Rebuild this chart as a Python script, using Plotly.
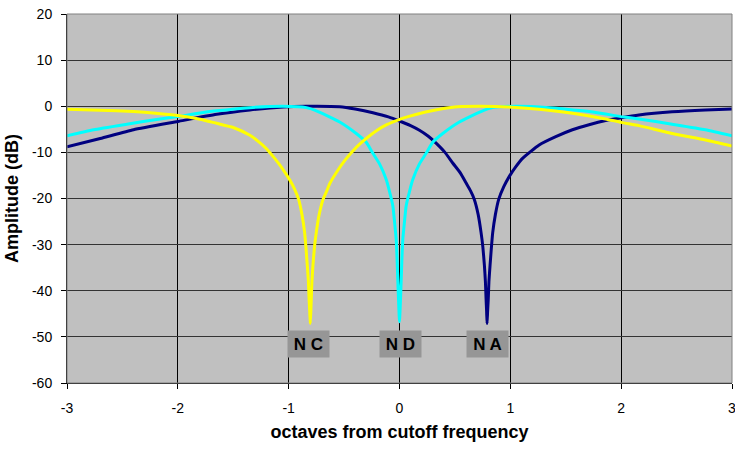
import plotly.graph_objects as go

# ---- data ----
navy_x = [-3, -2.7, -2.4, -2, -1.65, -1.35, -1.05, -0.84, -0.54, -0.4, -0.24, -0.1, 0,
          0.1, 0.18, 0.26, 0.33, 0.41, 0.48, 0.55, 0.6, 0.64, 0.675, 0.71, 0.736, 0.752, 0.766,
          0.775, 0.781, 0.786, 0.790, 0.795, 0.801, 0.807, 0.817, 0.828, 0.841, 0.865, 0.895,
          0.94, 0.991, 1.05, 1.11, 1.26, 1.41, 1.56, 1.71, 1.86, 2, 2.16, 2.46, 2.76, 3]
navy_y = [-8.8, -7.0, -5.1, -3.3, -1.75, -0.8, -0.15, 0, -0.1, -0.6, -1.4, -2.3, -3.2,
          -4.2, -5.2, -6.5, -8.0, -10, -12.3, -14.5, -16.6, -18.3, -20.2, -23.5, -27.4, -30.5, -34.5,
          -38, -41.7, -44.5, -47.1, -44.5, -41.7, -38, -34.5, -31, -27.4, -23.5, -20.2,
          -17.5, -15.2, -13.1, -11.3, -8.4, -6.6, -5.1, -4.0, -3.1, -2.5, -1.9, -1.2, -0.8, -0.6]

cyan_x = [-3, -2.76, -2.46, -2.16, -2, -1.86, -1.65, -1.35, -1.05, -0.84, -0.75, -0.54, -0.39,
          -0.3, -0.24, -0.18, -0.12, -0.09, -0.06, -0.045, -0.03, -0.022, -0.015, -0.008, 0,
          0.008, 0.015, 0.022, 0.03, 0.045, 0.06, 0.09, 0.12, 0.18, 0.24, 0.3, 0.39, 0.54,
          0.75, 0.84, 1.05, 1.35, 1.65, 1.86, 2, 2.16, 2.46, 2.76, 3]
cyan_y = [-6.4, -5.1, -3.9, -2.75, -2.25, -1.7, -1.0, -0.3, 0, -0.3, -1.0, -3.4, -5.9,
          -7.8, -10.2, -12.5, -15.9, -18.5, -21.6, -25, -28.8, -33, -38, -42.5, -46.7,
          -42.5, -38, -33, -28.8, -25, -21.6, -18.5, -15.9, -12.5, -10.2, -7.8, -5.9, -3.4,
          -1.0, -0.3, 0, -0.3, -1.0, -1.7, -2.25, -2.75, -3.9, -5.1, -6.4]

yellow_x = [-3, -2.7, -2.4, -2.2, -2, -1.8, -1.65, -1.5, -1.35, -1.28, -1.2, -1.13, -1.06, -0.99,
            -0.95, -0.91, -0.88, -0.856, -0.843, -0.832, -0.822, -0.816, -0.81, -0.805, -0.80,
            -0.796, -0.79, -0.781, -0.767, -0.751, -0.725, -0.69, -0.655, -0.63, -0.565, -0.495,
            -0.425, -0.345, -0.275, -0.195, -0.115, -0.015, 0.085, 0.225, 0.385, 0.525, 0.735,
            0.985, 1.26, 1.56, 1.86, 2, 2.16, 2.46, 2.76, 3]
yellow_y = [-0.65, -0.85, -1.15, -1.5, -2.0, -2.8, -3.7, -4.6, -6.3, -7.5, -9.2, -11.2, -13.4, -16,
            -17.8, -20.2, -23.5, -27.4, -31, -34.5, -38, -41.7, -44.5, -47.1, -44.5,
            -41.7, -38, -34.5, -30.5, -27.4, -23.5, -20.2, -18.3, -16.8, -14.2, -11.8,
            -9.8, -7.9, -6.5, -5.1, -4.0, -3.0, -2.2, -1.3, -0.55, -0.1, 0,
            -0.15, -0.65, -1.5, -2.75, -3.5, -4.2, -5.9, -7.3, -8.6]

labels = ["N C", "N D", "N A"]
label_x = [-0.82, 0.01, 0.79]
label_y = [-51.6, -51.6, -51.6]

x_ticks = [-3, -2, -1, 0, 1, 2, 3]
y_ticks = [-60, -50, -40, -30, -20, -10, 0, 10, 20]

FONT = "Arial, 'Liberation Sans', sans-serif"

fig = go.Figure()
for xs, ys, col in [(navy_x, navy_y, "#000080"), (cyan_x, cyan_y, "#00FFFF"), (yellow_x, yellow_y, "#FFFF00")]:
    fig.add_trace(go.Scatter(x=xs, y=ys, mode="lines",
                             line=dict(color=col, width=3, shape="spline", smoothing=0.5),
                             hoverinfo="skip"))

for t, xx, yy in zip(labels, label_x, label_y):
    fig.add_annotation(x=xx, y=yy, text="<b>" + t + "</b>", showarrow=False,
                       font=dict(family=FONT, size=17, color="black"),
                       bgcolor="#969696", width=41, height=26, borderpad=0)

fig.add_shape(type="rect", xref="paper", yref="paper", x0=0, y0=0, x1=1, y1=1,
              line=dict(color="#808080", width=1), layer="above")

fig.update_layout(
    width=735, height=449,
    margin=dict(l=67, r=3, t=14, b=66),
    paper_bgcolor="white", plot_bgcolor="#C0C0C0",
    showlegend=False,
    font=dict(family=FONT, size=14, color="black"),
    xaxis=dict(range=[-3, 3], tickvals=x_ticks, ticktext=[str(v) for v in x_ticks],
               automargin=False, ticklabeloverflow="allow",
               showgrid=True, gridcolor="#000000", gridwidth=1, zeroline=False,
               showline=True, linecolor="#000000", linewidth=1,
               ticks="outside", ticklen=5, tickcolor="#000000", ticklabelstandoff=7,
               title=dict(text="<b>octaves from cutoff frequency</b>", font=dict(size=18), standoff=10)),
    yaxis=dict(range=[-60, 20], tickvals=y_ticks, ticktext=[str(v) for v in y_ticks],
               automargin=False, ticklabeloverflow="allow",
               showgrid=True, gridcolor="#333333", gridwidth=1, zeroline=False,
               showline=True, linecolor="#000000", linewidth=1,
               ticks="outside", ticklen=5, tickcolor="#000000", ticklabelstandoff=6,
               title=dict(text="<b>Amplitude (dB)</b>", font=dict(size=18), standoff=8)),
)

fig.write_html("out.html", config={"displayModeBar": False},
               post_script="document.body.style.margin='0';document.body.style.overflow='hidden';")
